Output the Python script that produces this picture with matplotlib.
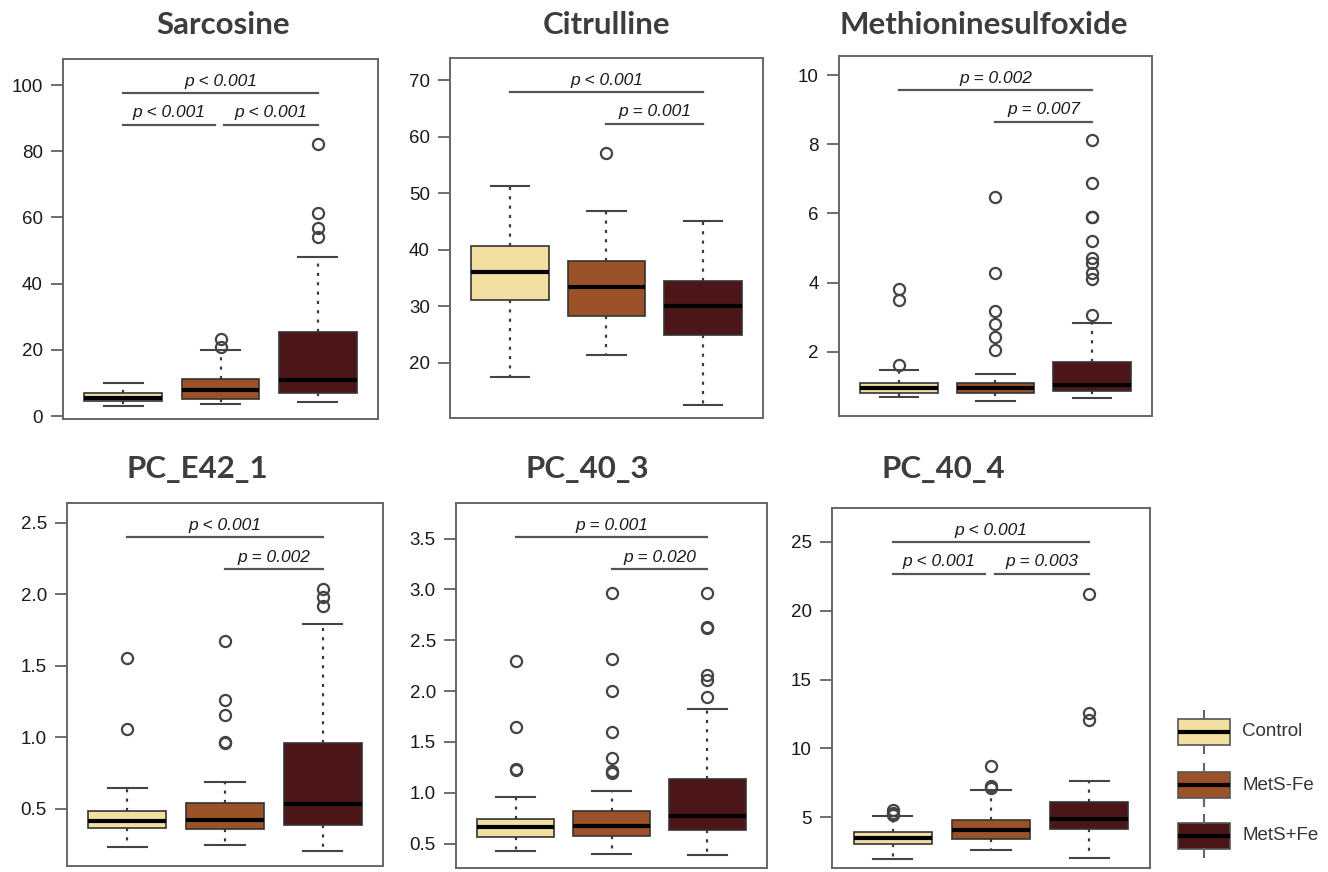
import matplotlib
matplotlib.use("Agg")
import matplotlib.pyplot as plt
from matplotlib.ticker import MultipleLocator
import matplotlib.transforms as mtransforms

groups = ["Control", "MetS-Fe", "MetS+Fe"]
colors = ["#F3DFA2", "#9C5229", "#4C1619"]

# five-number summaries per group: [whisker low, q1, median, q3, whisker high]
sarcosine = [[3.1, 4.4, 5.5, 6.9, 10.1],
             [3.5, 5.2, 7.9, 11.1, 20.1],
             [4.2, 7.0, 10.8, 25.3, 48.2]]
sarcosine_out = [[], [20.8, 23.3], [54.0, 56.7, 61.4, 82.3]]
sarcosine_p = [(1, 3, 1, "p < 0.001"), (1, 2, 2, "p < 0.001"), (2, 3, 2, "p < 0.001")]

citrulline = [[17.4, 31.0, 36.1, 40.7, 51.25],
              [21.4, 28.3, 33.4, 38.0, 46.8],
              [12.45, 24.8, 30.1, 34.4, 45.0]]
citrulline_out = [[], [57.1], []]
citrulline_p = [(1, 3, 1, "p < 0.001"), (2, 3, 2, "p = 0.001")]

methsulf = [[0.68, 0.80, 0.94, 1.10, 1.47],
            [0.57, 0.80, 0.94, 1.10, 1.35],
            [0.67, 0.86, 1.04, 1.69, 2.82]]
methsulf_out = [[1.61, 3.49, 3.82],
                [2.05, 2.43, 2.80, 3.19, 4.27, 6.48],
                [3.06, 4.11, 4.28, 4.55, 4.70, 5.21, 5.88, 5.90, 6.87, 8.12]]
methsulf_p = [(1, 3, 1, "p = 0.002"), (2, 3, 2, "p = 0.007")]

pc_e42_1 = [[0.231, 0.364, 0.414, 0.481, 0.645],
            [0.243, 0.360, 0.423, 0.540, 0.687],
            [0.203, 0.383, 0.530, 0.956, 1.79]]
pc_e42_1_out = [[1.054, 1.557],
                [0.956, 0.968, 1.155, 1.26, 1.674],
                [1.922, 1.98, 2.04]]
pc_e42_1_p = [(1, 3, 1, "p < 0.001"), (2, 3, 2, "p = 0.002")]

pc_40_3 = [[0.425, 0.566, 0.664, 0.746, 0.958],
           [0.402, 0.572, 0.670, 0.818, 1.02],
           [0.392, 0.631, 0.775, 1.135, 1.822]]
pc_40_3_out = [[1.227, 1.233, 1.642, 2.30],
               [1.194, 1.217, 1.34, 1.596, 2.002, 2.316, 2.96],
               [1.94, 2.11, 2.16, 2.62, 2.633, 2.967]]
pc_40_3_p = [(1, 3, 1, "p = 0.001"), (2, 3, 2, "p = 0.020")]

pc_40_4 = [[1.95, 3.04, 3.47, 3.91, 5.05],
           [2.62, 3.42, 4.08, 4.81, 6.99],
           [2.02, 4.15, 4.88, 6.07, 7.64]]
pc_40_4_out = [[5.17, 5.30, 5.53], [7.11, 7.23, 8.68], [12.03, 12.56, 21.22]]
pc_40_4_p = [(1, 3, 1, "p < 0.001"), (1, 2, 2, "p < 0.001"), (2, 3, 2, "p = 0.003")]

titles = ["Sarcosine", "Citrulline", "Methioninesulfoxide", "PC_E42_1", "PC_40_3", "PC_40_4"]
summaries = [sarcosine, citrulline, methsulf, pc_e42_1, pc_40_3, pc_40_4]
outliers = [sarcosine_out, citrulline_out, methsulf_out, pc_e42_1_out, pc_40_3_out, pc_40_4_out]
pvals = [sarcosine_p, citrulline_p, methsulf_p, pc_e42_1_p, pc_40_3_p, pc_40_4_p]
tick_steps = [20, 10, 2, 0.5, 0.5, 5]

# layout (pixels on a 1328x872 canvas)
W, H = 1328, 872
panel_px = [(63, 59, 378, 419), (450, 58, 763, 418), (839, 56, 1152, 416),
            (67, 503, 383, 866), (456, 503, 767, 868), (832, 508, 1150, 868)]
ylims = [(-0.9, 107.9), (10.2, 73.9), (0.14, 10.55),
         (0.098, 2.64), (0.26, 3.85), (1.3, 27.47)]
title_px = [(223, 34), (607, 34), (984, 34), (197, 478), (587, 478), (943, 478)]
levels = {1: 0.906, 2: 0.818}

fig = plt.figure(figsize=(W / 100, H / 100), dpi=100)

box_kw = dict(patch_artist=True, widths=0.8,
              boxprops=dict(edgecolor="#333333", linewidth=1.2),
              whiskerprops=dict(color="#3a3a3a", linewidth=1.6, linestyle=(0, (1.4, 2.8))),
              capprops=dict(color="#444444", linewidth=1.5),
              medianprops=dict(color="black", linewidth=3),
              flierprops=dict(marker="o", markerfacecolor="none", markeredgecolor="#444444",
                              markersize=8, markeredgewidth=1.6, linestyle="none"))

for k in range(6):
    x0, y0, x1, y1 = panel_px[k]
    ax = fig.add_axes([x0 / W, 1 - y1 / H, (x1 - x0) / W, (y1 - y0) / H])
    stats = []
    for g in range(3):
        lo, q1, med, q3, hi = summaries[k][g]
        stats.append(dict(whislo=lo, q1=q1, med=med, q3=q3, whishi=hi, fliers=outliers[k][g]))
    bp = ax.bxp(stats, positions=[1, 2, 3], **box_kw)
    for patch, c in zip(bp["boxes"], colors):
        patch.set_facecolor(c)
    ax.set_xlim(0.38, 3.62)
    ax.set_ylim(*ylims[k])
    ax.yaxis.set_major_locator(MultipleLocator(tick_steps[k]))
    ax.set_xticks([])
    ax.tick_params(axis="y", length=8.5, width=1.2, color="#555555", pad=6,
                   labelsize=13.5, labelcolor="#1a1a1a")
    for lab in ax.get_yticklabels():
        lab.set_fontfamily("Liberation Sans")
    for sp in ax.spines.values():
        sp.set_color("#666666")
        sp.set_linewidth(1.4)

    trans = mtransforms.blended_transform_factory(ax.transData, ax.transAxes)
    for i, j, lev, txt in pvals[k]:
        same = [p for p in pvals[k] if p[2] == lev]
        a, b = i, j
        if len(same) > 1:
            if i == 2:
                a = i + 0.04
            if j == 2:
                b = j - 0.06
        yy = levels[lev]
        ax.plot([a, b], [yy, yy], transform=trans, color="#555555", lw=1.6,
                clip_on=False)
        ax.annotate(txt, xy=((a + b) / 2, yy), xycoords=trans, xytext=(0, 3),
                    textcoords="offset points", ha="center", va="bottom",
                    fontsize=12.5, style="italic", family="Liberation Sans",
                    color="#1a1a1a")

    tx, ty = title_px[k]
    fig.text(tx / W, 1 - ty / H, titles[k], ha="center", va="baseline",
             fontsize=22.5, fontweight="bold", family="Lato", color="#3d3d3d")

# legend: small box glyphs drawn on a pixel-space overlay axes
leg = fig.add_axes([0, 0, 1, 1])
leg.set_xlim(0, W)
leg.set_ylim(H, 0)
leg.axis("off")
leg_y = [731.7, 785, 835.7]
for g in range(3):
    c = leg_y[g]
    st = [dict(whislo=c + 21, q1=c + 13, med=c, q3=c - 13, whishi=c - 21, fliers=[])]
    leg.bxp(st, positions=[1204], widths=52, patch_artist=True, showcaps=False,
            boxprops=dict(edgecolor="#555555", linewidth=1.2, facecolor=colors[g]),
            whiskerprops=dict(color="#666666", linewidth=1.5),
            medianprops=dict(color="black", linewidth=3))
    leg.text(1242, c, groups[g], ha="left", va="center", fontsize=13.5,
             family="Liberation Sans", color="#333333")
leg.set_xlim(0, W)
leg.set_ylim(H, 0)

fig.savefig("out.png", dpi=100, facecolor="white")
